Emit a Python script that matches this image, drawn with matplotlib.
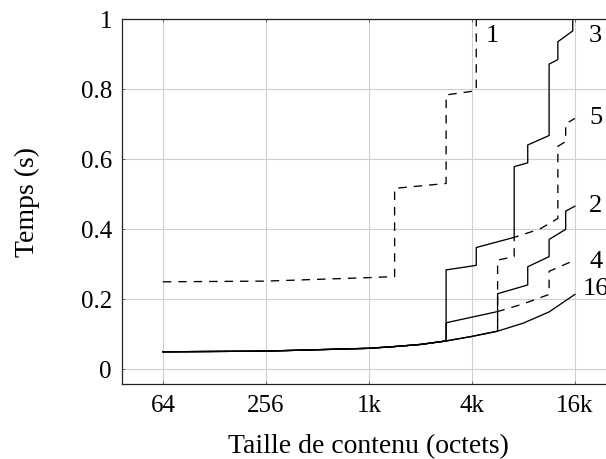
import matplotlib
matplotlib.use('Agg')
import matplotlib.pyplot as plt
from matplotlib.ticker import FixedLocator, FixedFormatter, NullLocator

plt.rcParams['font.family'] = ['Liberation Serif', 'DejaVu Serif']
plt.rcParams['lines.scale_dashes'] = False

# ---- data: breakpoints (bytes, seconds); a repeated x value is a step ----
c1_x = [64, 256, 1024, 1448, 1448, 2896, 2896, 4344, 4344]
c1_y = [0.250, 0.252, 0.262, 0.265, 0.517, 0.531, 0.784, 0.796, 1.05]

c16_x = [64, 256, 1024, 1448, 2048, 2896, 4096, 5792, 8192, 11584, 16384]
c16_y = [0.050, 0.052, 0.060, 0.065, 0.071, 0.081, 0.094, 0.109, 0.132, 0.164, 0.214]

c3_x = [64, 256, 1024, 1448, 2048, 2896, 2896, 4344, 4344, 7240, 7240, 8688, 8688,
        11584, 11584, 13032, 13032, 15928, 15928]
c3_y = [0.050, 0.052, 0.060, 0.065, 0.071, 0.081, 0.284, 0.297, 0.348, 0.377, 0.579, 0.590,
        0.641, 0.668, 0.872, 0.885, 0.936, 0.967, 1.05]

c2_x = [64, 256, 1024, 1448, 2048, 2896, 2896, 5792, 5792, 8688, 8688, 11584, 11584,
        14480, 14480, 16384]
c2_y = [0.050, 0.052, 0.060, 0.065, 0.071, 0.081, 0.133, 0.165, 0.216, 0.241, 0.293, 0.322,
        0.371, 0.400, 0.452, 0.466]

c4_x = [64, 256, 1024, 1448, 2048, 2896, 4096, 5792, 5792, 8192, 11584, 11584, 16384]
c4_y = [0.050, 0.052, 0.060, 0.065, 0.071, 0.081, 0.094, 0.109, 0.165, 0.187, 0.214, 0.280,
        0.312]

c5_x = [64, 256, 1024, 1448, 2048, 2896, 4096, 5792, 5792, 7240, 7240, 10240, 13032, 13032,
        14480, 14480, 16384]
c5_y = [0.050, 0.052, 0.060, 0.065, 0.071, 0.081, 0.094, 0.109, 0.312, 0.322, 0.377, 0.401,
        0.431, 0.637, 0.651, 0.701, 0.717]

curve_labels = ['1', '3', '5', '2', '4', '16']
label_x = [5360, 21650, 21650, 21650, 21650, 21650]
label_y = [0.936, 0.935, 0.701, 0.450, 0.289, 0.212]

x_ticks = [64, 256, 1024, 4096, 16384]
x_ticklabels = ['64', '256', '1k', '4k', '16k']
y_ticks = [0, 0.2, 0.4, 0.6, 0.8, 1.0]
y_ticklabels = ['0', '0.2', '0.4', '0.6', '0.8', '1']

# ---- figure ----
fig = plt.figure(figsize=(6.06, 4.59), dpi=100)
ax = fig.add_axes([0.2008, 0.1627, 0.8158, 0.7952])
ax.set_xscale('log', base=2)
ax.set_xlim(64 / 2 ** 0.8, 16384 * 2 ** 0.8)
ax.set_ylim(-0.0429, 1.0)

ax.xaxis.set_major_locator(FixedLocator(x_ticks))
ax.xaxis.set_major_formatter(FixedFormatter(x_ticklabels))
ax.xaxis.set_minor_locator(NullLocator())
ax.yaxis.set_major_locator(FixedLocator(y_ticks))
ax.yaxis.set_major_formatter(FixedFormatter(y_ticklabels))
ax.yaxis.set_minor_locator(NullLocator())

ax.grid(True, color='#cfcfcf', linewidth=0.8)
ax.set_axisbelow(True)
ax.tick_params(direction='in', length=2.5, width=0.7, color='#666666',
               top=True, right=True, labelsize=18)
ax.tick_params(axis='x', pad=8)
ax.tick_params(axis='y', pad=7)
for s in ax.spines.values():
    s.set_linewidth(0.9)
    s.set_color('#222222')

lw = 0.95
dash = (6.1, 5.0)
ax.plot(c16_x, c16_y, color='black', lw=lw)
ax.plot(c4_x, c4_y, color='black', lw=lw, linestyle=(0, dash))
ax.plot(c5_x, c5_y, color='black', lw=lw, linestyle=(5.5, dash))
ax.plot(c2_x, c2_y, color='black', lw=lw)
ax.plot(c3_x, c3_y, color='black', lw=lw)
ax.plot(c1_x, c1_y, color='black', lw=lw, linestyle=(0, dash))

for t, xx, yy in zip(curve_labels, label_x, label_y):
    ax.text(xx, yy, t, ha='center', va='baseline', fontsize=19)

fig.text(368.9 / 606, 1 - 453.3 / 459, 'Taille de contenu (octets)',
         ha='center', va='baseline', fontsize=20)
fig.text(27 / 606, 1 - 201.5 / 459, 'Temps (s)', rotation=90,
         ha='center', va='center', fontsize=20)

fig.savefig('out.png', dpi=100)
